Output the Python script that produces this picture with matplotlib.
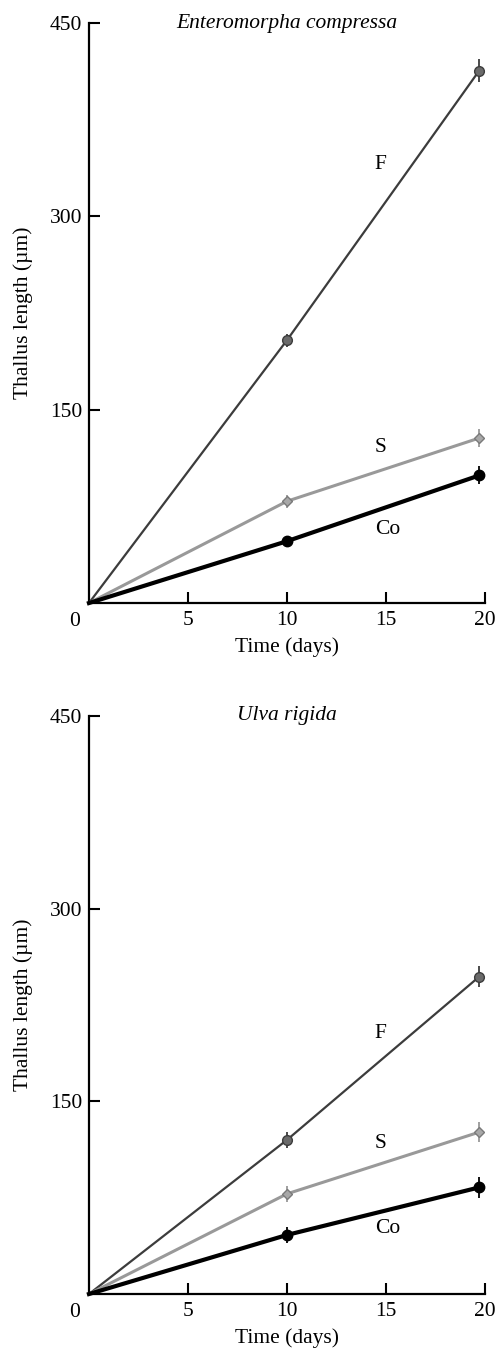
import matplotlib.pyplot as plt

plt.rcParams['font.family'] = ['Liberation Serif', 'DejaVu Serif']

# sampling days (points sit a touch inside the 20-day end of the axis)
days = [0, 10, 19.7]

# Enteromorpha compressa, thallus length in µm
ent_f = [0, 204, 413]
ent_s = [0, 79, 128]
ent_co = [0, 48, 99]
ent_err = [[0, 5, 9], [0, 5, 7], [0, 3, 7]]

# Ulva rigida, thallus length in µm
ulva_f = [0, 120, 247]
ulva_s = [0, 78, 126]
ulva_co = [0, 46, 83]
ulva_err = [[0, 6, 8], [0, 6, 8], [0, 6, 8]]

# where the F / S / Co tags sit, (day, µm)
ent_tags = [(14.7, 340), (14.7, 121), (15.1, 57)]
ulva_tags = [(14.7, 203), (14.7, 117), (15.1, 51)]

titles = ['Enteromorpha compressa', 'Ulva rigida']
y_ticks = [150, 300, 450]
x_ticks = [5, 10, 15, 20]
tag_names = ['F', 'S', 'Co']

# no marker at the common origin, only at the two sampling days
styles = [
    dict(color='#3c3c3c', lw=1.6, marker='o', ms=7, mfc='#6a6a6a', mec='#3c3c3c'),
    dict(color='#999999', lw=2.2, marker='D', ms=5.5, mfc='#a8a8a8', mec='#7a7a7a'),
    dict(color='black', lw=3.0, marker='o', ms=7.5, mfc='black', mec='black'),
]


def draw_panel(ax, title, series, errors, tags):
    for values, err, style in zip(series, errors, styles):
        ax.errorbar(days, values, yerr=err, ecolor=style['color'], elinewidth=1.3,
                    capsize=0, clip_on=False, zorder=3, markevery=[1, 2], **style)
    for name, (x, y) in zip(tag_names, tags):
        ax.text(x, y, name, fontsize=15.5, ha='center', va='center')

    ax.set_xlim(0, 20)
    ax.set_ylim(0, 450)
    ax.set_xticks(x_ticks)
    ax.set_yticks(y_ticks)
    ax.tick_params(direction='in', length=8, width=1.5, labelsize=15.5, pad=6)
    ax.tick_params(axis='y', pad=5)
    for side in ('top', 'right'):
        ax.spines[side].set_visible(False)
    for side in ('left', 'bottom'):
        ax.spines[side].set_linewidth(1.6)

    ax.annotate('0', xy=(0, 0), xytext=(-14, -18), textcoords='offset pixels',
                fontsize=15.5, ha='center', va='center')
    ax.set_xlabel('Time (days)', fontsize=15.5, labelpad=5)
    ax.set_ylabel('Thallus length (µm)', fontsize=15.5, labelpad=12)
    ax.text(0.5, 1.0, title, transform=ax.transAxes, fontsize=15.5,
            style='italic', ha='center', va='center')


fig = plt.figure(figsize=(4.97, 13.57), dpi=100)
ax_top = fig.add_axes([0.179, 0.5556, 0.797, 0.4274])
ax_bottom = fig.add_axes([0.179, 0.0464, 0.797, 0.426])

draw_panel(ax_top, titles[0], [ent_f, ent_s, ent_co], ent_err, ent_tags)
draw_panel(ax_bottom, titles[1], [ulva_f, ulva_s, ulva_co], ulva_err, ulva_tags)

fig.savefig('out.png', dpi=100)
